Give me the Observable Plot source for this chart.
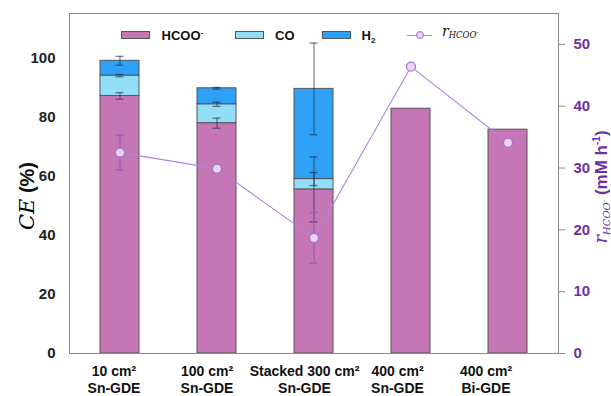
<!DOCTYPE html>
<html><head><meta charset="utf-8">
<script src="https://cdn.jsdelivr.net/npm/d3@7"></script>
<script src="https://cdn.jsdelivr.net/npm/@observablehq/plot@0.6"></script>
<style>
body{margin:0;background:#fff;}
#wrap{position:relative;width:611px;height:396px;overflow:hidden;font-family:"Liberation Sans",Arial,sans-serif;}
.lg{position:absolute;font-size:13px;font-weight:bold;color:#111;line-height:1;white-space:nowrap;}
.sw{position:absolute;width:29px;height:8px;border:1px solid #555;box-sizing:border-box;}
.rot{position:absolute;white-space:nowrap;transform:translate(-50%,-50%) rotate(-90deg);line-height:1;}
</style></head><body><div id="wrap"></div>
<script>
const categories = ["10 cm²\nSn-GDE", "100 cm²\nSn-GDE", "Stacked 300 cm²\nSn-GDE", "400 cm²\nSn-GDE", "400 cm²\nBi-GDE"];
const series = ["HCOO⁻", "CO", "H₂"];
const hcoo = [87.1, 77.9, 55.5, 82.8, 75.7];
const co = [6.9, 6.4, 3.5, 0, 0];
const h2 = [5.0, 5.4, 30.5, 0, 0];
const hcooErr = [1.1, 1.7, 11, 0, 0];
const coErr = [0.4, 0.7, 2.2, 0, 0];
const h2Err = [1.5, 0.3, 15.5, 0, 0];
const rate = [32.5, 29.9, 18.7, 46.4, 34.1];
const rateErr = [2.8, 0, 4.1, 0, 0];
const ceTicks = [0, 20, 40, 60, 80, 100];
const rateTicks = [0, 10, 20, 30, 40, 50];

// layout: horizontal nudges of the category labels (as in the original figure)
const labelNudge = [-6, -10, -9.5, -13.5, -22];

const ceMax = 115, rateMax = 55, k = ceMax / rateMax;
const colors = ["#c576b5", "#92def7", "#2ea1f6"];
const purple = "#7030a0";

const bars = categories.flatMap((c, i) => [
  {cat: c, series: series[0], value: hcoo[i]},
  {cat: c, series: series[1], value: co[i]},
  {cat: c, series: series[2], value: h2[i]}
]).filter(d => d.value > 0);

const errs = categories.flatMap((c, i) => [
  {cat: c, y: hcoo[i], e: hcooErr[i]},
  {cat: c, y: hcoo[i] + co[i], e: coErr[i]},
  {cat: c, y: hcoo[i] + co[i] + h2[i], e: h2Err[i]}
]).filter(d => d.e > 0);

const rates = categories.map((c, i) => ({cat: c, r: rate[i] * k, e: rateErr[i] * k}));
const rateErrs = rates.filter(d => d.e > 0);

const capInset = 15.5;

const chart = Plot.plot({
  width: 611, height: 396,
  marginLeft: 69, marginRight: 53, marginTop: 13, marginBottom: 43,
  style: {fontFamily: "'Liberation Sans', Arial, sans-serif", fontSize: "15px", fontWeight: "bold", color: "#222", background: "transparent"},
  x: {domain: categories, paddingInner: 0.6, paddingOuter: 0.3, label: null},
  y: {domain: [0, ceMax], label: null},
  color: {domain: series, range: colors},
  marks: [
    Plot.barY(bars, {x: "cat", y: "value", fill: "series", stroke: "#555", strokeWidth: 1}),
    Plot.ruleX(errs, {x: "cat", y1: d => d.y - d.e, y2: d => d.y + d.e, stroke: "#1d2a45", strokeOpacity: 0.55, strokeWidth: 1.3}),
    Plot.tickY(errs, {x: "cat", y: d => d.y - d.e, insetLeft: capInset, insetRight: capInset, stroke: "#1d2a45", strokeOpacity: 0.6, strokeWidth: 1.3}),
    Plot.tickY(errs, {x: "cat", y: d => d.y + d.e, insetLeft: capInset, insetRight: capInset, stroke: "#1d2a45", strokeOpacity: 0.6, strokeWidth: 1.3}),
    Plot.line(rates, {x: "cat", y: "r", stroke: "#b083dc", strokeWidth: 1.1}),
    Plot.ruleX(rateErrs, {x: "cat", y1: d => d.r - d.e, y2: d => d.r + d.e, stroke: "#9a5cc4", strokeWidth: 1.3}),
    Plot.tickY(rateErrs, {x: "cat", y: d => d.r - d.e, insetLeft: capInset, insetRight: capInset, stroke: "#9a5cc4", strokeWidth: 1.3}),
    Plot.tickY(rateErrs, {x: "cat", y: d => d.r + d.e, insetLeft: capInset, insetRight: capInset, stroke: "#9a5cc4", strokeWidth: 1.3}),
    Plot.dot(rates, {x: "cat", y: "r", r: 4.5, fill: "#ead3f5", stroke: "#a070cc", strokeWidth: 1.2}),
    Plot.frame({stroke: "#8a8a8a"}),
    Plot.axisY({ticks: ceTicks, tickSize: 0, tickPadding: 14, label: null, fontSize: 15}),
    Plot.axisY({anchor: "right", ticks: rateTicks.map(v => v * k), tickSize: 6, tickFormat: () => "", color: "#8a8a8a", label: null}),
    Plot.axisY({anchor: "right", ticks: rateTicks.map(v => v * k), tickSize: 0, tickPadding: 15, tickFormat: d => Math.round(d / k), color: purple, label: null, fontSize: 15}),
    ...categories.map((c, i) => Plot.axisX({ticks: [c], tickSize: 0, tickPadding: 11, label: null, fontSize: 14, lineHeight: 1.2, fill: "#111", dx: labelNudge[i]}))
  ]
});

const wrap = document.getElementById("wrap");
wrap.appendChild(chart);

const legendItems = [
  {x: 120.5, color: colors[0], tx: 161.5, html: "HCOO<sup style='font-size:8px;vertical-align:5px'>-</sup>"},
  {x: 234.5, color: colors[1], tx: 275, html: "CO"},
  {x: 321.5, color: colors[2], tx: 361.5, html: "H<sub style='font-size:8px;vertical-align:-3px'>2</sub>"}
];
for (const it of legendItems) {
  const s = document.createElement("div");
  s.className = "sw";
  s.style.left = it.x + "px"; s.style.top = "31px"; s.style.background = it.color;
  wrap.appendChild(s);
  const t = document.createElement("div");
  t.className = "lg";
  t.style.left = it.tx + "px"; t.style.top = "29px";
  t.innerHTML = it.html;
  wrap.appendChild(t);
}
// rate legend
const ll = document.createElement("div");
ll.style.cssText = "position:absolute;left:406.5px;top:34.5px;width:25px;height:1.2px;background:#b083dc;";
wrap.appendChild(ll);
const lc = document.createElement("div");
lc.style.cssText = "position:absolute;left:416px;top:31px;width:6px;height:6px;border-radius:50%;background:#ead3f5;border:1.2px solid #a070cc;";
wrap.appendChild(lc);
const lt = document.createElement("div");
lt.className = "lg";
lt.style.cssText += "left:442px;top:24px;font-family:'DejaVu Serif',serif;font-style:italic;font-weight:normal;font-size:14px;";
lt.innerHTML = "r<span style='font-size:8.5px;vertical-align:-2px'>HCOO<sup style='font-size:6px'>-</sup></span>";
wrap.appendChild(lt);

// left axis title
const yl = document.createElement("div");
yl.className = "rot";
yl.style.left = "27px"; yl.style.top = "196px";
yl.innerHTML = "<span style=\"font-family:'DejaVu Serif',serif;font-style:italic;font-size:21px;\">CE</span><span style='font-weight:bold;font-size:20px;color:#111'> (%)</span>";
wrap.appendChild(yl);

// right axis title
const yr = document.createElement("div");
yr.className = "rot";
yr.style.left = "602px"; yr.style.top = "187px"; yr.style.color = purple;
yr.innerHTML = "<span style=\"font-family:'DejaVu Serif',serif;font-style:italic;font-size:18px;font-weight:normal\">r<span style='font-size:10px;vertical-align:-3px'>HCOO<sup style='font-size:7px'>-</sup></span></span><span style='font-weight:bold;font-size:17px'> (mM h<sup style='font-size:10px'>-1</sup>)</span>";
wrap.appendChild(yr);
</script>
</body></html>
